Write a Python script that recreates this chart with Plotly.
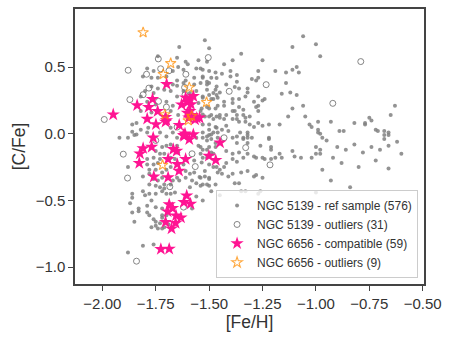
import plotly.graph_objects as go

# NGC 5139 reference sample ([Fe/H], [C/Fe])
ref_pts = [
    (-1.52, 0.70), (-1.50, 0.64), (-1.06, 0.73), (-1.00, 0.67), (-1.11, 0.65), (-0.98, 0.58),
    (-1.35, 0.60), (-1.39, 0.55), (-1.25, 0.55), (-1.43, 0.52), (-1.54, 0.49), (-1.40, 0.47),
    (-1.50, 0.47), (-1.47, 0.46), (-1.27, 0.47), (-1.19, 0.47), (-1.14, 0.46), (-1.11, 0.48),
    (-1.09, 0.50), (-1.08, 0.46), (-1.53, 0.42), (-1.51, 0.39), (-1.49, 0.42), (-1.40, 0.43),
    (-1.37, 0.39), (-1.30, 0.41), (-1.28, 0.40), (-1.27, 0.42), (-1.14, 0.38), (-1.51, 0.37),
    (-1.47, 0.33), (-1.45, 0.31), (-1.38, 0.35), (-1.36, 0.34), (-1.32, 0.31), (-1.27, 0.28),
    (-1.16, 0.30), (-1.12, 0.31), (-1.09, 0.29), (-1.53, 0.28), (-1.48, 0.26), (-1.39, 0.26),
    (-1.39, 0.23), (-1.36, 0.26), (-1.29, 0.24), (-1.25, 0.25), (-1.24, 0.26), (-1.06, 0.21),
    (-1.51, 0.20), (-1.47, 0.19), (-1.46, 0.21), (-1.43, 0.21), (-1.36, 0.20), (-1.34, 0.18),
    (-1.34, 0.14), (-1.33, 0.12), (-1.28, 0.20), (-1.27, 0.21), (-1.27, 0.17), (-1.11, 0.19),
    (-1.13, 0.13), (-1.05, 0.13), (-1.03, 0.07), (-1.02, 0.05), (-0.99, 0.09), (-0.99, 0.03),
    (-0.98, 0.00), (-0.97, -0.03), (-0.93, 0.09), (-0.89, 0.02), (-0.87, 0.02), (-1.54, 0.17),
    (-1.52, 0.13), (-1.49, 0.14), (-1.48, 0.11), (-1.45, 0.14), (-1.43, 0.11), (-1.42, 0.14),
    (-1.39, 0.11), (-1.38, 0.17), (-1.37, 0.14), (-1.36, 0.09), (-1.31, 0.13), (-1.31, 0.07),
    (-1.29, 0.05), (-1.27, 0.08), (-1.25, 0.06), (-1.22, 0.07), (-1.17, 0.07), (-1.53, 0.07),
    (-1.50, 0.03), (-1.47, 0.05), (-1.46, 0.01), (-1.44, 0.03), (-1.41, 0.02), (-1.39, -0.03),
    (-1.34, -0.03), (-1.32, -0.01), (-1.30, -0.03), (-1.22, -0.03),
    (-0.63, 0.21), (-0.65, 0.14), (-0.75, 0.12), (-0.74, 0.10), (-0.77, 0.08), (-0.77, 0.07),
    (-0.82, 0.08), (-0.72, 0.03), (-0.71, 0.02), (-0.68, 0.02), (-0.68, -0.01), (-0.66, 0.01),
    (-0.66, -0.01), (-0.68, -0.04),
    (-0.90, -0.10), (-0.86, -0.12), (-0.82, -0.08), (-0.78, -0.14), (-0.74, -0.10), (-0.70, -0.12),
    (-0.66, -0.09), (-0.62, -0.06), (-0.60, -0.15), (-0.88, -0.22), (-0.80, -0.25), (-0.72, -0.20),
    (-0.66, -0.26), (-0.93, -0.35), (-0.84, -0.40), (-0.95, -0.05), (-1.02, -0.18), (-0.97, -0.27),
    (-0.99, 0.01), (-1.00, -0.10), (-0.98, -0.12), (-0.98, -0.15), (-1.00, -0.15), (-0.92, -0.18),
    (-1.07, -0.18), (-1.11, -0.13), (-1.10, -0.17), (-1.17, -0.15), (-1.16, -0.18), (-1.19, -0.18),
    (-1.24, -0.19), (-1.21, -0.19), (-1.25, -0.18), (-1.22, -0.04), (-1.21, -0.10), (-1.21, -0.12),
    (-1.26, -0.09), (-1.29, -0.17), (-1.28, -0.18), (-1.32, -0.03), (-1.32, -0.07), (-1.34, -0.04),
    (-1.37, -0.02), (-1.37, -0.07), (-1.36, -0.14), (-1.34, -0.18), (-1.32, -0.15), (-1.42, -0.13),
    (-1.39, -0.15), (-1.39, -0.19), (-1.37, -0.21), (-1.29, -0.32), (-1.25, -0.33), (-1.28, -0.31),
    (-1.35, -0.29), (-1.32, -0.28), (-1.36, -0.37), (-1.35, -0.43), (-1.33, -0.43), (-1.26, -0.43),
    (-1.27, -0.45), (-1.41, -0.32), (-1.39, -0.30), (-1.38, -0.37), (-1.45, -0.46), (-1.00, -0.44),
    (-1.43, -0.25), (-1.42, -0.22), (-1.45, -0.27), (-1.44, -0.30),
    (-1.53, -0.03), (-1.51, -0.05), (-1.50, -0.01), (-1.48, 0.01), (-1.54, -0.10), (-1.51, -0.12),
    (-1.49, -0.14), (-1.47, -0.10), (-1.53, -0.18), (-1.50, -0.23), (-1.48, -0.25), (-1.52, -0.28),
    (-1.54, -0.33), (-1.50, -0.33), (-1.51, -0.38), (-1.47, -0.38), (-1.49, -0.43),
    (-1.92, -0.03), (-1.88, -0.03), (-1.85, -0.01), (-1.88, -0.25), (-1.81, -0.43), (-1.86, -0.45),
    (-1.86, -0.48), (-1.87, -0.52), (-1.86, -0.59), (-1.83, -0.56), (-1.83, -0.58), (-1.79, -0.54),
    (-1.79, -0.59), (-1.85, -0.66), (-1.81, -0.84), (-1.76, -0.83), (-1.88, -0.89), (-1.78, -0.61),
    (-1.76, -0.64), (-1.75, -0.69), (-1.77, -0.70), (-1.73, -0.67), (-1.75, -0.66), (-1.74, -0.71),
    (-1.71, -0.70), (-1.69, -0.68), (-1.72, -0.71), (-1.72, -0.61), (-1.72, -0.63), (-1.70, -0.61),
    (-1.75, -0.55), (-1.72, -0.56), (-1.77, -0.50), (-1.80, -0.46), (-1.78, -0.45), (-1.75, -0.45),
    (-1.72, -0.43), (-1.71, -0.41), (-1.70, -0.45), (-1.68, -0.45), (-1.66, -0.44),
    (-1.81, -0.32), (-1.78, -0.30), (-1.76, -0.34), (-1.74, -0.35), (-1.72, -0.33), (-1.78, -0.38),
    (-1.75, -0.39), (-1.73, -0.40), (-1.71, -0.38), (-1.68, -0.38), (-1.67, -0.35), (-1.65, -0.33),
    (-1.79, -0.19), (-1.79, -0.23), (-1.76, -0.23), (-1.74, -0.22), (-1.72, -0.29), (-1.70, -0.27),
    (-1.68, -0.25), (-1.75, -0.27), (-1.78, -0.27),
    (-1.62, -0.23), (-1.61, -0.28), (-1.59, -0.30), (-1.57, -0.29), (-1.545, -0.325), (-1.52, -0.32),
    (-1.50, -0.34), (-1.53, -0.38), (-1.56, -0.37), (-1.58, -0.35), (-1.54, -0.39), (-1.50, -0.39),
    (-1.64, -0.35), (-1.61, -0.33), (-1.59, -0.40),
    (-1.56, -0.03), (-1.51, -0.02), (-1.49, -0.04), (-1.47, -0.07), (-1.55, -0.09), (-1.53, -0.12),
    (-1.50, -0.10), (-1.54, -0.15), (-1.51, -0.18), (-1.48, -0.15), (-1.57, -0.20), (-1.535, -0.215),
    (-1.465, -0.25), (-1.46, -0.29),
    (-1.72, -0.10), (-1.70, -0.09), (-1.68, -0.08), (-1.67, -0.12), (-1.645, -0.14), (-1.65, -0.09),
    (-1.73, -0.15), (-1.75, -0.13), (-1.76, -0.18), (-1.71, -0.15), (-1.68, -0.18), (-1.73, -0.19),
    (-1.66, -0.19),
    (-1.64, 0.65), (-1.74, 0.58), (-1.65, 0.57), (-1.61, 0.54), (-1.55, 0.55), (-1.51, 0.54),
    (-1.56, 0.49), (-1.53, 0.48), (-1.645, 0.50), (-1.60, 0.52), (-1.79, 0.49), (-1.76, 0.47),
    (-1.67, 0.47), (-1.62, 0.48), (-1.81, 0.43), (-1.77, 0.42), (-1.74, 0.42), (-1.70, 0.43),
    (-1.65, 0.40), (-1.61, 0.40), (-1.57, 0.42), (-1.53, 0.43), (-1.65, 0.36), (-1.62, 0.38),
    (-1.57, 0.37), (-1.54, 0.38), (-1.50, 0.38), (-1.465, 0.355), (-1.77, 0.355), (-1.74, 0.34),
    (-1.71, 0.33), (-1.68, 0.32), (-1.67, 0.37), (-1.80, 0.32), (-1.82, 0.28), (-1.76, 0.305),
    (-1.62, 0.32), (-1.59, 0.305), (-1.56, 0.32), (-1.51, 0.33), (-1.48, 0.305), (-1.65, 0.28),
    (-1.605, 0.27), (-1.55, 0.23), (-1.53, 0.27), (-1.49, 0.26), (-1.46, 0.27), (-1.79, 0.24),
    (-1.75, 0.22), (-1.70, 0.24), (-1.67, 0.21), (-1.535, 0.19), (-1.50, 0.19), (-1.82, 0.17),
    (-1.77, 0.16), (-1.68, 0.17), (-1.645, 0.14), (-1.53, 0.145), (-1.50, 0.13), (-1.465, 0.13),
    (-1.86, 0.07), (-1.84, 0.08), (-1.82, 0.03), (-1.785, 0.045), (-1.73, 0.01), (-1.68, 0.045),
    (-1.67, 0.01), (-1.50, 0.07), (-1.465, 0.045), (-1.53, 0.01), (-1.49, -0.005), (-1.46, -0.03),
    (-1.84, -0.005), (-1.79, 0.01), (-1.70, -0.02), (-1.65, -0.03), (-1.86, 0.015),
    (-1.465, 0.417), (-1.44, 0.45), (-1.37, 0.44), (-1.42, 0.37), (-1.33, 0.28), (-1.32, 0.34),
    (-1.39, 0.17), (-1.43, 0.24), (-1.465, 0.29), (-1.50, 0.29), (-1.45, 0.12), (-1.37, 0.11),
    (-1.33, 0.09), (-1.42, 0.06), (-1.355, 0.01), (-1.32, 0.01),
    (-1.56, -0.47), (-1.53, -0.50), (-1.58, -0.56),
]

# NGC 5139 outliers
out5139_pts = [
    (-1.504, 0.571), (-1.738, 0.561), (-1.879, 0.476), (-1.793, 0.446), (-1.688, 0.472),
    (-1.609, 0.446), (-1.782, 0.342), (-1.615, 0.347), (-1.871, 0.256), (-1.737, 0.243),
    (-1.991, 0.107), (-1.809, 0.293), (-1.233, 0.368), (-1.406, 0.318), (-0.921, 0.228),
    (-1.430, -0.030), (-0.790, 0.541), (-1.613, 0.293), (-1.329, -0.104), (-1.215, -0.233),
    (-1.902, -0.153), (-1.882, -0.332), (-1.565, -0.246), (-1.684, -0.397), (-1.840, -0.955),
    (-1.727, 0.487), (-1.65, 0.05), (-1.58, -0.15), (-1.75, -0.05), (-1.62, -0.55), (-1.70, 0.20),
]

# NGC 6656 compatible stars
comp_pts = [
    (-1.699, 0.372), (-1.949, 0.144), (-1.837, 0.213), (-1.783, 0.199), (-1.765, 0.260),
    (-1.790, 0.112), (-1.741, 0.169), (-1.704, 0.124), (-1.704, 0.089), (-1.749, 0.070),
    (-1.629, 0.219), (-1.602, 0.236), (-1.590, 0.256), (-1.574, 0.281), (-1.602, 0.156),
    (-1.558, 0.119), (-1.566, 0.107), (-1.640, 0.065), (-1.762, -0.030), (-1.617, -0.017),
    (-1.574, -0.005), (-1.593, -0.042), (-1.449, -0.067), (-1.809, -0.109), (-1.769, -0.099),
    (-1.668, -0.116), (-1.652, -0.129), (-1.501, -0.166), (-1.469, -0.198), (-1.824, -0.149),
    (-1.692, -0.190), (-1.610, -0.190), (-1.649, -0.228), (-1.641, -0.278), (-1.827, -0.220),
    (-1.759, -0.322), (-1.692, -0.327), (-1.605, -0.464), (-1.618, -0.513), (-1.587, -0.525),
    (-1.687, -0.530), (-1.671, -0.558), (-1.694, -0.583), (-1.655, -0.613), (-1.632, -0.629),
    (-1.704, -0.662), (-1.657, -0.670), (-1.676, -0.711), (-1.726, -0.865), (-1.687, -0.863),
    (-1.590, 0.169), (-1.613, 0.000), (-1.595, 0.120), (-1.580, 0.140), (-1.610, 0.270),
    (-1.700, 0.100), (-1.545, 0.120), (-1.620, -0.010), (-1.585, 0.220),
]

# NGC 6656 outliers
out6656_pts = [
    (-1.809, 0.759), (-1.680, 0.528), (-1.715, 0.446), (-1.593, 0.347), (-1.512, 0.236),
    (-1.707, 0.144), (-1.582, 0.132), (-1.598, 0.100), (-1.718, -0.235),
]

legend_names = [
    "NGC 5139 - ref sample (576)",
    "NGC 5139 - outliers (31)",
    "NGC 6656 - compatible (59)",
    "NGC 6656 - outliers (9)",
]

x_ticks = [-2.0, -1.75, -1.5, -1.25, -1.0, -0.75, -0.5]
x_ticktext = ["−2.00", "−1.75", "−1.50", "−1.25", "−1.00", "−0.75", "−0.50"]
y_ticks = [-1.0, -0.5, 0.0, 0.5]
y_ticktext = ["−1.0", "−0.5", "0.0", "0.5"]


def xs(pts):
    return [p[0] for p in pts]


def ys(pts):
    return [p[1] for p in pts]


fig = go.Figure()
fig.add_trace(go.Scatter(
    x=xs(ref_pts), y=ys(ref_pts), mode="markers", name=legend_names[0],
    marker=dict(symbol="circle", size=4, color="rgba(128,128,128,0.85)", line_width=0),
))
fig.add_trace(go.Scatter(
    x=xs(out5139_pts), y=ys(out5139_pts), mode="markers", name=legend_names[1],
    marker=dict(symbol="circle-open", size=6, color="rgba(120,120,120,0.9)", line=dict(width=1)),
))
fig.add_trace(go.Scatter(
    x=xs(comp_pts), y=ys(comp_pts), mode="markers", name=legend_names[2],
    marker=dict(symbol="star", size=10, color="#ff1493", line_width=0),
))
fig.add_trace(go.Scatter(
    x=xs(out6656_pts), y=ys(out6656_pts), mode="markers", name=legend_names[3],
    marker=dict(symbol="star-open", size=8, color="rgba(255,140,0,0.75)", line=dict(width=1.1)),
))

FONT = "Liberation Sans, Arial, sans-serif"
axis_common = dict(
    showgrid=False, zeroline=False, showline=True, mirror=True,
    linecolor="#444", linewidth=1.5, ticks="outside", ticklen=5, tickwidth=1.2,
    tickcolor="#444", tickfont=dict(family=FONT, size=15, color="#333"),
)
fig.update_xaxes(
    range=[-2.128, -0.494], tickvals=x_ticks, ticktext=x_ticktext,
    title=dict(text="[Fe/H]", font=dict(family=FONT, size=17.5, color="#333"), standoff=4),
    **axis_common,
)
fig.update_yaxes(
    range=[-1.126, 0.935], tickvals=y_ticks, ticktext=y_ticktext,
    title=dict(text="[C/Fe]", font=dict(family=FONT, size=17.5, color="#333"), standoff=6),
    **axis_common,
)

fig.update_layout(
    width=455, height=342,
    margin=dict(l=75, r=31, t=7, b=58),
    font=dict(family=FONT, color="#333"),
    plot_bgcolor="white", paper_bgcolor="white",
    showlegend=True,
    legend=dict(
        x=0.983, y=0.022, xanchor="right", yanchor="bottom",
        bgcolor="rgba(255,255,255,0.8)", bordercolor="#cccccc", borderwidth=1,
        font=dict(family=FONT, size=12, color="#333"), tracegroupgap=0, itemsizing="trace",
    ),
)

fig.write_html(
    "out.html",
    config={"displayModeBar": False},
    post_script="document.body.style.margin='0';",
)
